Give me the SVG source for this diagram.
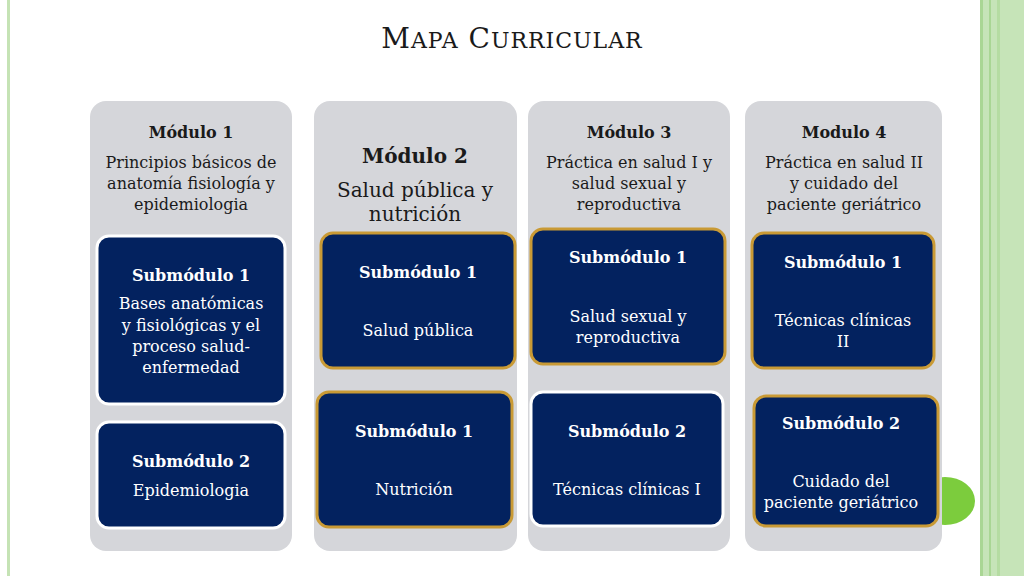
<svg xmlns="http://www.w3.org/2000/svg" width="1024" height="576" viewBox="0 0 1024 576">
<style>
.col{fill:#d5d6da}
.sub{fill:#03225f;stroke-width:3}
.g{stroke:#c99a35}
.w{stroke:#ffffff}
text{font-family:"DejaVu Serif","Liberation Serif",serif;text-anchor:middle}
.d{fill:#1a1a1a;font-size:16px}
.dh{fill:#1a1a1a;font-size:16px;font-weight:bold}
.t{fill:#fff;font-size:16px}
.th{fill:#fff;font-size:16px;font-weight:bold}
</style>
<rect width="1024" height="576" fill="#fff"/>
<rect x="7" y="0" width="3" height="576" fill="#c5e3b5"/>
<rect x="980" y="0" width="44" height="576" fill="#c6e4b8"/>
<rect x="980" y="0" width="3" height="576" fill="#a9d694"/>
<rect x="989" y="0" width="2" height="576" fill="#a9d694"/>
<rect x="997" y="0" width="3" height="576" fill="#b5dca2"/>
<ellipse cx="945" cy="501" rx="30" ry="24" fill="#7ccc3d"/>
<text x="512" y="48" style="font-size:28px;fill:#1a1a1a;letter-spacing:1px">M<tspan font-size="22">APA</tspan> C<tspan font-size="22">URRICULAR</tspan></text>
<g id="connectors"/>
<g id="m1">
<rect class="col" x="90" y="101" width="202" height="450" rx="16"/>
<text class="dh" x="191" y="138">Módulo 1</text>
<text class="d" x="191" y="168">Principios básicos de</text>
<text class="d" x="191" y="189">anatomía fisiología y</text>
<text class="d" x="191" y="210">epidemiologia</text>
</g>
<g id="m1s1">
<rect class="sub w" x="97" y="236" width="188" height="168" rx="12"/>
<text class="th" x="191" y="281">Submódulo 1</text>
<text class="t" x="191" y="309">Bases anatómicas</text>
<text class="t" x="191" y="331">y fisiológicas y el</text>
<text class="t" x="191" y="352">proceso  salud-</text>
<text class="t" x="191" y="373">enfermedad</text>
</g>
<g id="m1s2">
<rect class="sub w" x="97" y="422" width="188" height="106" rx="12"/>
<text class="th" x="191" y="467">Submódulo 2</text>
<text class="t" x="191" y="496">Epidemiologia</text>
</g>
<g id="m2">
<rect class="col" x="314" y="101" width="203" height="450" rx="16"/>
<text x="415" y="163" style="font-size:20px;font-weight:bold;fill:#1a1a1a">Módulo 2</text>
<text x="415" y="197" style="font-size:20px;fill:#1a1a1a">Salud pública y</text>
<text x="415" y="221" style="font-size:20px;fill:#1a1a1a">nutrición</text>
</g>
<g id="m2s1">
<rect class="sub g" x="321" y="233" width="194" height="135" rx="12"/>
<text class="th" x="418" y="278">Submódulo 1</text>
<text class="t" x="418" y="336">Salud pública</text>
</g>
<g id="m2s2">
<rect class="sub g" x="317" y="392" width="195" height="135" rx="12"/>
<text class="th" x="414" y="437">Submódulo 1</text>
<text class="t" x="414" y="495">Nutrición</text>
</g>
<g id="m3">
<rect class="col" x="528" y="101" width="202" height="450" rx="16"/>
<text class="dh" x="629" y="138">Módulo 3</text>
<text class="d" x="629" y="168">Práctica en salud I y</text>
<text class="d" x="629" y="189">salud sexual y</text>
<text class="d" x="629" y="210">reproductiva</text>
</g>
<g id="m3s1">
<rect class="sub g" x="531" y="229" width="194" height="135" rx="12"/>
<text class="th" x="628" y="263">Submódulo 1</text>
<text class="t" x="628" y="322">Salud sexual y</text>
<text class="t" x="628" y="343">reproductiva</text>
</g>
<g id="m3s2">
<rect class="sub w" x="531" y="392" width="192" height="134" rx="12"/>
<text class="th" x="627" y="437">Submódulo 2</text>
<text class="t" x="627" y="495">Técnicas clínicas I</text>
</g>
<g id="m4">
<rect class="col" x="745" y="101" width="197" height="450" rx="16"/>
<text class="dh" x="844" y="138">Modulo 4</text>
<text class="d" x="844" y="168">Práctica en salud II</text>
<text class="d" x="844" y="189">y cuidado del</text>
<text class="d" x="844" y="210">paciente geriátrico</text>
</g>
<g id="m4s1">
<rect class="sub g" x="752" y="233" width="182" height="135" rx="12"/>
<text class="th" x="843" y="268">Submódulo 1</text>
<text class="t" x="843" y="326">Técnicas clínicas</text>
<text class="t" x="843" y="347">II</text>
</g>
<g id="m4s2">
<rect class="sub g" x="754" y="396" width="184" height="130" rx="12"/>
<text class="th" x="841" y="429">Submódulo 2</text>
<text class="t" x="841" y="487">Cuidado del</text>
<text class="t" x="841" y="508">paciente geriátrico</text>
</g>
</svg>
